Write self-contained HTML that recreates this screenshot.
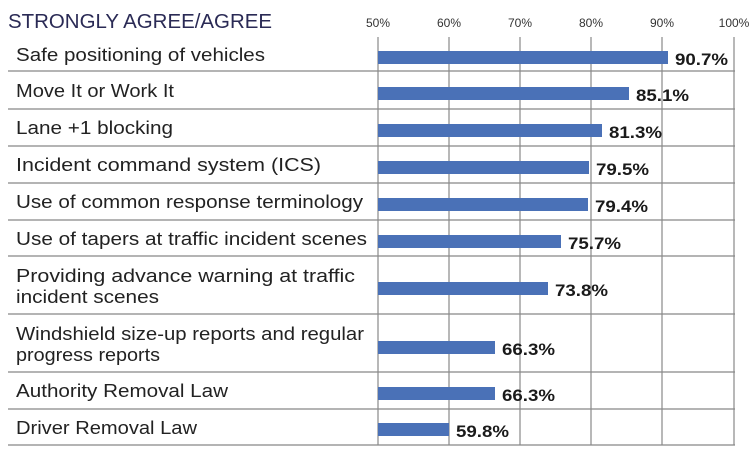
<!DOCTYPE html>
<html><head><meta charset="utf-8"><style>
html,body{margin:0;padding:0;background:#fff;}
svg{display:block;}
text{font-family:"Liberation Sans",sans-serif;}
</style></head><body>
<svg width="754" height="462" viewBox="0 0 754 462" xmlns="http://www.w3.org/2000/svg">
<text x="8" y="28" font-size="20" fill="#2a2a55" textLength="264" lengthAdjust="spacingAndGlyphs">STRONGLY AGREE/AGREE</text>
<g font-size="12" fill="#333" text-anchor="middle">
<text x="378" y="27">50%</text><text x="449" y="27">60%</text><text x="520" y="27">70%</text><text x="591" y="27">80%</text><text x="662" y="27">90%</text><text x="734" y="27">100%</text>
</g>
<g stroke="#888" stroke-width="1.2">
<line x1="378" y1="37" x2="378" y2="445"/><line x1="449" y1="37" x2="449" y2="445"/><line x1="520" y1="37" x2="520" y2="445"/><line x1="591" y1="37" x2="591" y2="445"/><line x1="662" y1="37" x2="662" y2="445"/><line x1="734" y1="37" x2="734" y2="445"/>
<line x1="8" y1="71" x2="735" y2="71"/><line x1="8" y1="109" x2="735" y2="109"/><line x1="8" y1="146" x2="735" y2="146"/><line x1="8" y1="183" x2="735" y2="183"/><line x1="8" y1="220" x2="735" y2="220"/><line x1="8" y1="256" x2="735" y2="256"/><line x1="8" y1="314" x2="735" y2="314"/><line x1="8" y1="372" x2="735" y2="372"/><line x1="8" y1="409" x2="735" y2="409"/><line x1="8" y1="445" x2="735" y2="445"/>
</g>
<g font-size="18" fill="#222" lengthAdjust="spacingAndGlyphs">
<text x="16" y="61" textLength="249" lengthAdjust="spacingAndGlyphs">Safe positioning of vehicles</text>
<text x="16" y="97" textLength="158" lengthAdjust="spacingAndGlyphs">Move It or Work It</text>
<text x="16" y="134" textLength="157" lengthAdjust="spacingAndGlyphs">Lane +1 blocking</text>
<text x="16" y="171" textLength="305" lengthAdjust="spacingAndGlyphs">Incident command system (ICS)</text>
<text x="16" y="208" textLength="347" lengthAdjust="spacingAndGlyphs">Use of common response terminology</text>
<text x="16" y="245" textLength="351" lengthAdjust="spacingAndGlyphs">Use of tapers at traffic incident scenes</text>
<text x="16" y="282" textLength="339" lengthAdjust="spacingAndGlyphs">Providing advance warning at traffic</text>
<text x="16" y="303" textLength="143" lengthAdjust="spacingAndGlyphs">incident scenes</text>
<text x="16" y="340" textLength="348" lengthAdjust="spacingAndGlyphs">Windshield size-up reports and regular</text>
<text x="16" y="361" textLength="144" lengthAdjust="spacingAndGlyphs">progress reports</text>
<text x="16" y="397" textLength="212" lengthAdjust="spacingAndGlyphs">Authority Removal Law</text>
<text x="16" y="434" textLength="181" lengthAdjust="spacingAndGlyphs">Driver Removal Law</text>
</g>
<g fill="#4a71b7">
<rect x="378" y="51" width="290" height="13"/>
<rect x="378" y="87" width="251" height="13"/>
<rect x="378" y="124" width="224" height="13"/>
<rect x="378" y="161" width="211" height="13"/>
<rect x="378" y="198" width="210" height="13"/>
<rect x="378" y="235" width="183" height="13"/>
<rect x="378" y="282" width="170" height="13"/>
<rect x="378" y="341" width="117" height="13"/>
<rect x="378" y="387" width="117" height="13"/>
<rect x="378" y="423" width="71" height="13"/>
</g>
<g font-size="17" font-weight="bold" fill="#1a1a1a">
<text x="675" y="65" textLength="53" lengthAdjust="spacingAndGlyphs">90.7%</text>
<text x="636" y="101" textLength="53" lengthAdjust="spacingAndGlyphs">85.1%</text>
<text x="609" y="138" textLength="53" lengthAdjust="spacingAndGlyphs">81.3%</text>
<text x="596" y="175" textLength="53" lengthAdjust="spacingAndGlyphs">79.5%</text>
<text x="595" y="212" textLength="53" lengthAdjust="spacingAndGlyphs">79.4%</text>
<text x="568" y="249" textLength="53" lengthAdjust="spacingAndGlyphs">75.7%</text>
<text x="555" y="296" textLength="53" lengthAdjust="spacingAndGlyphs">73.8%</text>
<text x="502" y="355" textLength="53" lengthAdjust="spacingAndGlyphs">66.3%</text>
<text x="502" y="401" textLength="53" lengthAdjust="spacingAndGlyphs">66.3%</text>
<text x="456" y="437" textLength="53" lengthAdjust="spacingAndGlyphs">59.8%</text>
</g>
</svg>
</body></html>
